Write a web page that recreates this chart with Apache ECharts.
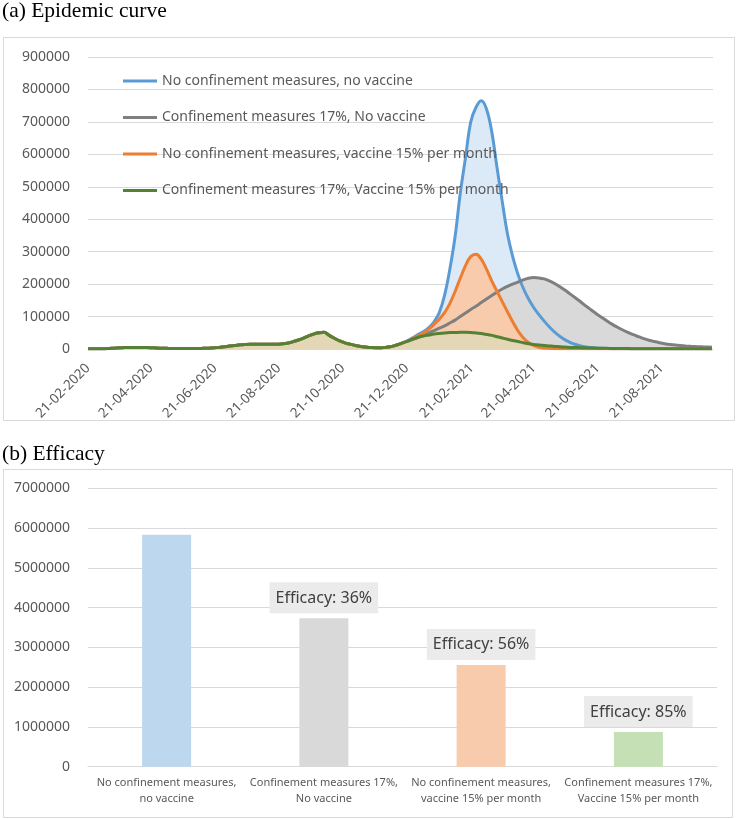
<!DOCTYPE html>
<html><head><meta charset="utf-8">
<script src="https://cdn.jsdelivr.net/npm/echarts@6/dist/echarts.min.js"></script>
<style>html,body{margin:0;padding:0;background:#fff}#chart{width:738px;height:819px}</style>
</head><body><div id="chart"></div><script>
// ---------- DATA ----------
const seriesNames = [
  'No confinement measures, no vaccine',
  'Confinement measures 17%, No vaccine',
  'No confinement measures, vaccine 15% per month',
  'Confinement measures 17%, Vaccine 15% per month'
];
const startDate = '2020-02-21';     // first day of the epidemic curve
const stepDays = 5;                  // sampling step of the values below
const lastDay = 596;                 // days covered by the x axis
const xTickLabels = ['21-02-2020','21-04-2020','21-06-2020','21-08-2020','21-10-2020',
  '21-12-2020','21-02-2021','21-04-2021','21-06-2021','21-08-2021'];
const yTicksTop = {min: 0, max: 900000, interval: 100000};

// days 0..300: all four scenarios coincide
const sharedEarly = [
  1000,1000,1000,1000,1500,2500,3500,4500,5000,5000,
  5000,4500,4000,3000,2500,2000,1500,1500,1500,1500,
  1500,1500,2000,2500,3500,5000,7000,9000,11000,13000,
  14000,14500,14500,14500,14500,15000,15000,16000,18000,22000,
  27000,33000,40000,46000,50000,52000,42000,33000,25000,19000,
  15000,11000,8000,6000,4500,4000,4000,5500,8000,13000,
  19000
];
// days 305..595
const noConfNoVacc = [
  26000,35000,45000,54000,66000,84000,112000,165000,245000,345000,
  480000,590000,700000,745000,765000,740000,670000,560000,455000,355000,
  285000,230000,188000,155000,128000,106000,86000,68000,52000,39000,
  28000,20000,14000,9500,6500,4500,3000,2000,1500,1000,
  1000,1000,1000,1000,1000,1000,800,800,800,800,
  700,700,700,600,600,600,500,500,500
];
const confNoVacc = [
  25000,30000,36000,43000,50000,57000,64000,71000,80000,89000,
  100000,111000,122000,132000,143000,154000,165000,175000,185000,193000,
  200000,206000,213000,218000,220000,219000,216000,210000,202000,192000,
  181000,169000,157000,145000,132000,120000,108000,97000,86000,76000,
  67000,58500,51000,44000,38000,32000,27000,23000,19500,16500,
  14000,12000,10500,9300,8300,7500,6800,6100,5500
];
const noConfVacc = [
  25000,33000,41000,49000,61000,76000,92000,112000,140000,177000,
  218000,257000,285000,292000,277000,246000,210000,178000,146000,115000,
  84000,56000,35000,20000,11000,5000,3000,2000,1500,1000,
  500,500,500,500,500,500,500,500,500,500,
  500,500,500,500,500,500,500,500,500,500,
  500,500,500,500,500,500,500,500,500
];
const confVacc = [
  24000,31000,36000,40000,43000,46000,48000,49500,50500,51000,
  51500,51500,51000,49500,47500,45000,42000,38000,34000,30000,
  26000,23000,19500,16500,14000,12500,11000,9500,8000,7000,
  6000,5000,4500,4000,3500,3000,2500,2200,2000,1800,
  1600,1400,1200,1000,900,900,800,800,800,700,
  700,700,600,600,600,500,500,500,500
];

const barCategories = [
  'No confinement measures,\nno vaccine',
  'Confinement measures 17%,\nNo vaccine',
  'No confinement measures,\nvaccine 15% per month',
  'Confinement measures 17%,\nVaccine 15% per month'
];
const totalCases = [5830000, 3730000, 2560000, 870000];
const efficacyPct = [null, 36, 56, 85];
const yTicksBottom = {min: 0, max: 7000000, interval: 1000000};

// ---------- STYLE ----------
const lineColors = ['#5b9bd5', '#7f7f7f', '#ed7d31', '#548235'];
const areaColors = ['#dce9f6', '#d9d9d9', '#f8cbad', '#e3d7b5'];
const barColors = ['#bdd7ee', '#d9d9d9', '#f8cbad', '#c5e0b4'];
const FONT = "'Noto Sans', sans-serif";
const TXT = '#595959';

// ---------- BUILD ----------
const DAY = 86400000;
const t0 = Date.parse(startDate + 'T00:00:00Z');
function labelToDay(s) {
  const [d, m, y] = s.split('-').map(Number);
  return Math.round((Date.UTC(y, m - 1, d) - t0) / DAY);
}
const tickDays = xTickLabels.map(labelToDay);
const dayToLabel = {};
tickDays.forEach((d, i) => { dayToLabel[d] = xTickLabels[i]; });

const tails = [noConfNoVacc, confNoVacc, noConfVacc, confVacc];
const allValues = tails.map(t => sharedEarly.concat(t));
const pairs = allValues.map(vals => vals.map((v, i) => [i * stepDays, v]));

const series = [];
pairs.forEach((data, k) => {
  series.push({
    name: 'area' + k, type: 'line', xAxisIndex: 0, yAxisIndex: 0,
    data, smooth: 0.4, symbol: 'none', silent: true, z: 1,
    lineStyle: {opacity: 0}, areaStyle: {color: areaColors[k], opacity: 1}
  });
});
pairs.forEach((data, k) => {
  series.push({
    name: seriesNames[k], type: 'line', xAxisIndex: 0, yAxisIndex: 0,
    data, smooth: 0.4, symbol: 'none', z: 3,
    itemStyle: {color: lineColors[k]},
    lineStyle: {color: lineColors[k], width: 3}
  });
});
series.push({
  type: 'bar', xAxisIndex: 1, yAxisIndex: 1, barWidth: 49,
  data: totalCases.map((v, i) => ({
    value: v, itemStyle: {color: barColors[i]},
    label: {show: efficacyPct[i] != null}
  })),
  label: {
    position: 'top', distance: 5,
    formatter: p => 'Efficacy: ' + efficacyPct[p.dataIndex] + '%',
    backgroundColor: '#ebebeb', padding: [7, 6, 6, 6],
    fontSize: 16, lineHeight: 18, color: '#404040', fontFamily: FONT
  }
});

const chart = echarts.init(document.getElementById('chart'), null, {renderer: 'canvas'});
chart.setOption({
  animation: false,
  backgroundColor: '#fff',
  title: [
    {text: '(a) Epidemic curve', left: 2, top: 0, padding: 0,
     textStyle: {fontFamily: "'Liberation Serif', serif", fontSize: 21.5, fontWeight: 'normal', color: '#000'}},
    {text: '(b) Efficacy', left: 2, top: 443, padding: 0,
     textStyle: {fontFamily: "'Liberation Serif', serif", fontSize: 21.5, fontWeight: 'normal', color: '#000'}}
  ],
  graphic: [
    {type: 'rect', shape: {x: 3.5, y: 37.5, width: 731, height: 383}, style: {fill: null, stroke: '#d9d9d9', lineWidth: 1}, silent: true},
    {type: 'rect', shape: {x: 3.5, y: 469.5, width: 729, height: 348}, style: {fill: null, stroke: '#d9d9d9', lineWidth: 1}, silent: true}
  ],
  legend: {
    data: seriesNames, orient: 'vertical', left: 123, top: 74,
    icon: 'rect', itemWidth: 34, itemHeight: 3, itemGap: 22.5, padding: 0,
    textStyle: {fontSize: 14, lineHeight: 14, color: TXT, fontFamily: FONT}
  },
  grid: [
    {left: 88, right: 25, top: 57, height: 292},
    {left: 88, right: 21, top: 488.3, height: 278.4}
  ],
  xAxis: [
    {type: 'value', gridIndex: 0, min: 0, max: lastDay,
     axisLine: {show: true, lineStyle: {color: '#d9d9d9', width: 1}},
     axisTick: {show: false}, splitLine: {show: false},
     axisLabel: {customValues: tickDays, formatter: v => dayToLabel[v] || '',
       rotate: 45, margin: 17, color: TXT, fontSize: 13.5, fontFamily: FONT}},
    {type: 'category', gridIndex: 1, data: barCategories,
     axisLine: {show: true, lineStyle: {color: '#d9d9d9', width: 1}},
     axisTick: {show: false},
     axisLabel: {interval: 0, margin: 8, color: TXT, fontSize: 11, lineHeight: 16, fontFamily: FONT}}
  ],
  yAxis: [
    {type: 'value', gridIndex: 0, min: yTicksTop.min, max: yTicksTop.max, interval: yTicksTop.interval,
     axisLine: {show: false}, axisTick: {show: false},
     splitLine: {lineStyle: {color: '#d9d9d9', width: 1}},
     axisLabel: {margin: 18, color: TXT, fontSize: 14, fontFamily: FONT, formatter: v => String(v)}},
    {type: 'value', gridIndex: 1, min: yTicksBottom.min, max: yTicksBottom.max, interval: yTicksBottom.interval,
     axisLine: {show: false}, axisTick: {show: false},
     splitLine: {lineStyle: {color: '#d9d9d9', width: 1}},
     axisLabel: {margin: 18, color: TXT, fontSize: 14, fontFamily: FONT, formatter: v => String(v)}}
  ],
  series
});
</script></body></html>
